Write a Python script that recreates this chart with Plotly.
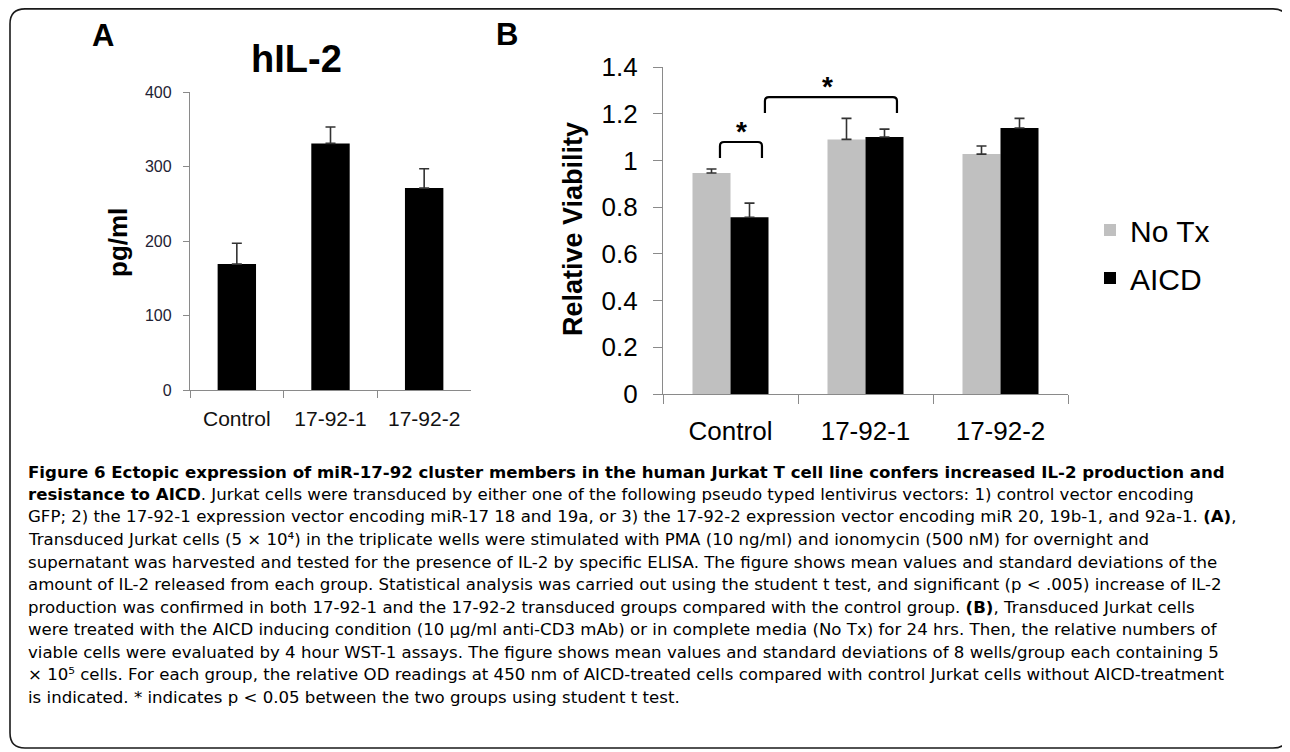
import plotly.graph_objects as go

# page body has an 8px margin, so the figure is sized to fit the 1290x752 window
OFF = 8
W, H = 1290 - OFF, 752 - OFF

# ---------------- data ----------------
categories = ["Control", "17-92-1", "17-92-2"]

il2_values = [169, 331, 271]
il2_errors = [28, 22, 26]

notx_values = [0.946, 1.090, 1.027]
notx_errors = [0.017, 0.090, 0.035]
aicd_values = [0.757, 1.100, 1.139]
aicd_errors = [0.060, 0.034, 0.041]

a_yticks = [0, 100, 200, 300, 400]
b_yticks = [0, 0.2, 0.4, 0.6, 0.8, 1, 1.2, 1.4]

# significance brackets: (x_left, x_right, y_leg, y_top) in category-index units
brackets = [(-0.078, 0.233, 1.010, 1.079), (0.255, 1.233, 1.203, 1.271)]
stars = [(0.078, 1.125), (0.715, 1.318)]

caption_lines = [
    "<b>Figure 6 Ectopic expression of miR-17-92 cluster members in the human Jurkat T cell line confers increased IL-2 production and</b>",
    "<b>resistance to AICD</b>. Jurkat cells were transduced by either one of the following pseudo typed lentivirus vectors: 1) control vector encoding",
    "GFP; 2) the 17-92-1 expression vector encoding miR-17 18 and 19a, or 3) the 17-92-2 expression vector encoding miR 20, 19b-1, and 92a-1. <b>(A)</b>,",
    "Transduced Jurkat cells (5 × 10⁴) in the triplicate wells were stimulated with PMA (10 ng/ml) and ionomycin (500 nM) for overnight and",
    "supernatant was harvested and tested for the presence of IL-2 by specific ELISA. The figure shows mean values and standard deviations of the",
    "amount of IL-2 released from each group. Statistical analysis was carried out using the student t test, and significant (p &lt; .005) increase of IL-2",
    "production was confirmed in both 17-92-1 and the 17-92-2 transduced groups compared with the control group. <b>(B)</b>, Transduced Jurkat cells",
    "were treated with the AICD inducing condition (10 µg/ml anti-CD3 mAb) or in complete media (No Tx) for 24 hrs. Then, the relative numbers of",
    "viable cells were evaluated by 4 hour WST-1 assays. The figure shows mean values and standard deviations of 8 wells/group each containing 5",
    "× 10⁵ cells. For each group, the relative OD readings at 450 nm of AICD-treated cells compared with control Jurkat cells without AICD-treatment",
    "is indicated. * indicates p &lt; 0.05 between the two groups using student t test.",
]


def px(x):
    return (x - OFF) / W


def py(y):
    return 1 - (y - OFF) / H


ARIAL = "Liberation Sans, Arial, sans-serif"
AXIS_GRAY = "#8a8a8a"

fig = go.Figure()

# Panel A
fig.add_trace(go.Bar(
    x=categories, y=il2_values, width=0.41,
    marker=dict(color="black", line=dict(width=0)),
    error_y=dict(type="data", array=il2_errors, arrayminus=[0] * len(il2_errors),
                 symmetric=False, color="#333333", thickness=1.6, width=5),
    xaxis="x", yaxis="y", showlegend=False,
))

# Panel B
fig.add_trace(go.Bar(
    x=categories, y=notx_values, name="No Tx",
    marker=dict(color="#c0c0c0", line=dict(width=0)),
    error_y=dict(type="data", array=notx_errors, arrayminus=[0] * 3,
                 symmetric=False, color="#333333", thickness=1.6, width=5),
    xaxis="x2", yaxis="y2", legendgroup="a",
))
fig.add_trace(go.Bar(
    x=categories, y=aicd_values, name="AICD",
    marker=dict(color="black", line=dict(width=0)),
    error_y=dict(type="data", array=aicd_errors, arrayminus=[0] * 3,
                 symmetric=False, color="#333333", thickness=1.6, width=5),
    xaxis="x2", yaxis="y2", legendgroup="b",
))

axis_common = dict(showline=True, linecolor=AXIS_GRAY, linewidth=1.3, ticks="outside",
                   tickcolor=AXIS_GRAY, tickwidth=1.3, showgrid=False, zeroline=False,
                   fixedrange=True, automargin=False)

fig.update_layout(
    width=W, height=H,
    margin=dict(l=0, r=0, t=0, b=0, pad=0, autoexpand=False),
    paper_bgcolor="white", plot_bgcolor="white",
    barmode="group", bargap=0.437, bargroupgap=0,
    font=dict(family=ARIAL, color="black"),
    xaxis=dict(domain=[px(190), px(471)], anchor="y", type="category",
               tickson="boundaries", ticklen=7, ticklabelstandoff=10,
               tickfont=dict(size=21, color="#111111"), **axis_common),
    yaxis=dict(domain=[py(390), py(92)], anchor="x", range=[0, 400],
               tickvals=a_yticks, ticklen=6, ticklabelstandoff=8,
               tickfont=dict(size=16, color="#222233"), **axis_common),
    xaxis2=dict(domain=[px(663), px(1068)], anchor="y2", type="category",
                tickson="boundaries", ticklen=9, ticklabelstandoff=14,
                tickfont=dict(size=26, color="black"), **axis_common),
    yaxis2=dict(domain=[py(394), py(67)], anchor="x2", range=[0, 1.4],
                tickvals=b_yticks, ticklen=9, ticklabelstandoff=10,
                tickfont=dict(size=26, color="black"), **axis_common),
    legend=dict(x=px(1090), y=py(204), xanchor="left", yanchor="top",
                font=dict(size=30, family=ARIAL, color="black"),
                traceorder="grouped", tracegroupgap=6, bgcolor="rgba(0,0,0,0)"),
)

annotations = []


def label(text, x, y, size, angle=0):
    return dict(text=text, x=px(x), y=py(y), xref="paper", yref="paper",
                xanchor="center", yanchor="middle", showarrow=False, textangle=angle,
                font=dict(size=size, family=ARIAL, color="black"))


annotations.append(label("<b>A</b>", 103, 36, 31))
annotations.append(label("<b>B</b>", 507, 35, 31))
annotations.append(label("<b>hIL-2</b>", 296, 59, 38))
annotations.append(label("<b>pg/ml</b>", 118, 243, 26, -90))
annotations.append(label("<b>Relative Viability</b>", 573, 229, 27, -90))
# significance stars
for sx, sy in stars:
    annotations.append(dict(text="<b>*</b>", x=sx, y=sy, xref="x2", yref="y2",
                            xanchor="center", yanchor="middle",
                            showarrow=False, font=dict(size=28, family=ARIAL)))
# caption, one annotation per line
line_y0, line_step = 472, 22.5
for i, line in enumerate(caption_lines):
    annotations.append(dict(text=line, x=px(26), y=py(line_y0 + i * line_step),
                            xref="paper", yref="paper", xanchor="left", yanchor="middle",
                            showarrow=False, align="left",
                            font=dict(size=16.6, family="DejaVu Sans, Open Sans, sans-serif",
                                      color="black")))
fig.update_layout(annotations=annotations)

shapes = []
# brackets with rounded corners
rx, ry = 0.03, 0.017
for x0, x1, yl, yt in brackets:
    path = (f"M {x0},{yl} L {x0},{yt - ry} Q {x0},{yt} {x0 + rx},{yt} "
            f"L {x1 - rx},{yt} Q {x1},{yt} {x1},{yt - ry} L {x1},{yl}")
    shapes.append(dict(type="path", path=path, xref="x2", yref="y2",
                       line=dict(color="black", width=2.2)))

# rounded outer frame (paper coordinates)
fx0, fy0, fx1, fy1, r = 10, 8.9, 1288, 748, 15
rxp, ryp = r / W, r / H
X0, X1 = px(fx0), px(fx1)
Y0, Y1 = py(fy0), py(fy1)
frame = (f"M {X0 + rxp},{Y0} L {X1 - rxp},{Y0} Q {X1},{Y0} {X1},{Y0 - ryp} "
         f"L {X1},{Y1 + ryp} Q {X1},{Y1} {X1 - rxp},{Y1} "
         f"L {X0 + rxp},{Y1} Q {X0},{Y1} {X0},{Y1 + ryp} "
         f"L {X0},{Y0 - ryp} Q {X0},{Y0} {X0 + rxp},{Y0} Z")
shapes.append(dict(type="path", path=frame, xref="paper", yref="paper",
                   line=dict(color="#1a1a1a", width=1.6), layer="above"))
fig.update_layout(shapes=shapes)

fig.write_html("out.html")
